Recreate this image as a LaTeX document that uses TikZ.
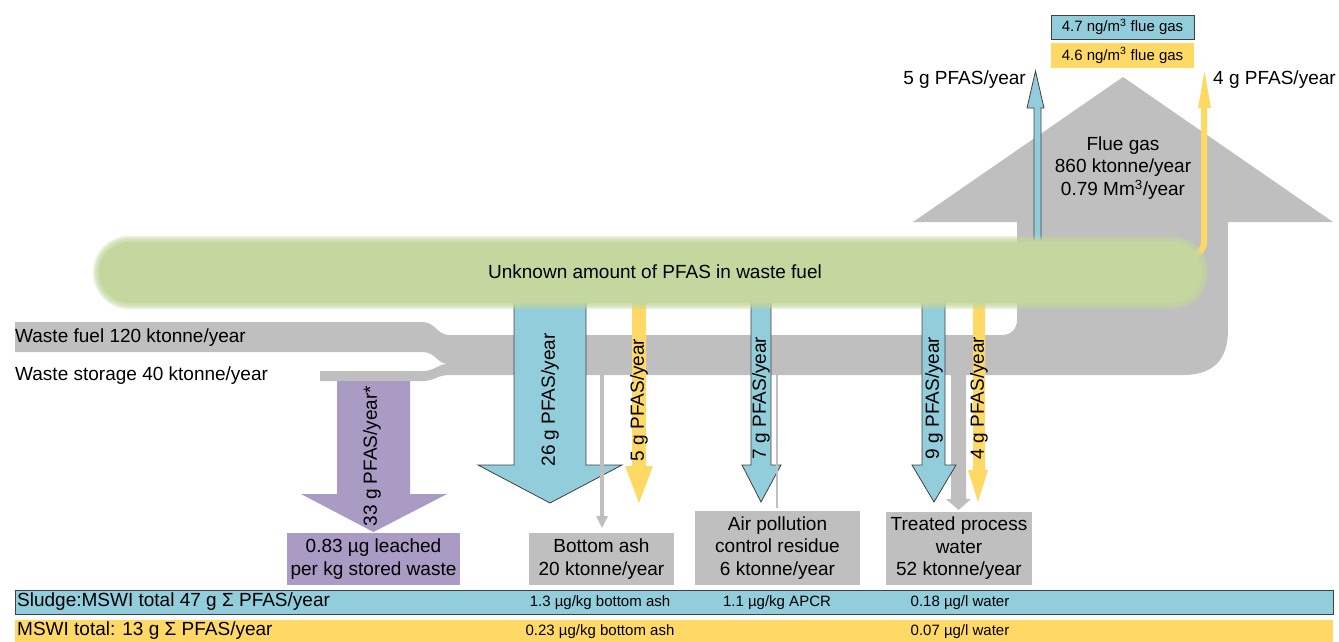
\documentclass[tikz,border=0pt]{standalone}
\usepackage{fontspec}
\setmainfont{Liberation Sans}
\usetikzlibrary{positioning}
\definecolor{FlowGray}{HTML}{BFBFBF}
\definecolor{PfasBlue}{HTML}{92CDDC}
\definecolor{PfasYellow}{HTML}{FFD966}
\definecolor{LeachPurple}{HTML}{A99BC4}
\definecolor{FuelGreen}{HTML}{C4D79F}
\definecolor{EdgeGray}{HTML}{404040}
\tikzset{
  txt/.style={font=\fontsize{19}{22.5}\selectfont, inner sep=0pt, align=center},
  smalltxt/.style={font=\fontsize{15}{18}\selectfont, inner sep=0pt},
  upright/.style={txt, rotate=90},
  sinkbox/.style={fill=FlowGray, inner sep=2pt, align=center, font=\fontsize{19}{22.5}\selectfont},
  leachbox/.style={sinkbox, fill=LeachPurple},
  bluetag/.style={draw=EdgeGray, fill=PfasBlue, minimum width=143pt, minimum height=24pt, inner sep=0pt, font=\fontsize{15}{18}\selectfont},
  yellowtag/.style={bluetag, draw=none, fill=PfasYellow},
  grayflow/.style={fill=FlowGray},
  blueflow/.style={fill=PfasBlue, draw=EdgeGray, line width=0.8pt},
  yellowflow/.style={fill=PfasYellow},
  purpleflow/.style={fill=LeachPurple}
}

\begin{document}
\begin{tikzpicture}[x=1pt, y=-1pt]
\useasboundingbox (0,0) rectangle (1339,642);

% waste in, flue gas out
\fill[grayflow] (15,322) -- (422,322) .. controls (436,322) and (436,335) .. (450,335)
  -- (1002,335) .. controls (1011,335) and (1017,329) .. (1017,320)
  -- (1017,222) -- (913,222) -- (1123,77) -- (1333,222) -- (1228,222)
  -- (1228,330) .. controls (1228,360) and (1213,375) .. (1183,375)
  -- (450,375) .. controls (436,375) and (436,381) .. (422,381)
  -- (320,381) -- (320,371) -- (422,371) .. controls (436,371) and (437,364) .. (448,364)
  .. controls (437,364) and (436,352) .. (422,352) -- (15,352) -- cycle;

% leaching from storage
\fill[purpleflow] (337,381) -- (337,494) -- (301,494) -- (373.5,532) -- (447,494) -- (410,494) -- (410,381) -- cycle;

% flows to residues
\draw[blueflow] (514,300) -- (514,465) -- (478,465) -- (550,503) -- (622,465) -- (586,465) -- (586,300);
\fill[yellowflow] (632,300) -- (632,466) -- (625,466) -- (639,503) -- (653,466) -- (646,466) -- (646,300) -- cycle;
\fill[grayflow] (600,375) -- (600,516) -- (596,516) -- (602,528) -- (608,516) -- (604,516) -- (604,375) -- cycle;
\draw[blueflow] (751,300) -- (751,465) -- (742,465) -- (761,502) -- (781,465) -- (771,465) -- (771,300);
\draw[FlowGray, line width=2pt] (777,375) -- (777,508);
\fill[grayflow] (951,375) -- (951,499) -- (946,499) -- (958.5,510) -- (971,499) -- (966,499) -- (966,375) -- cycle;
\draw[blueflow] (922,300) -- (922,465) -- (912,465) -- (934,502) -- (956,465) -- (945,465) -- (945,300);
\fill[yellowflow] (973,300) -- (973,470) -- (968,470) -- (978,502) -- (988,470) -- (985,470) -- (985,300) -- cycle;

% flows to flue gas
\draw[blueflow] (1034,240) -- (1034,108) -- (1027,108) -- (1035.5,71) -- (1044,108) -- (1041,108) -- (1041,240);
\draw[PfasYellow, line width=6pt, rounded corners=14pt] (1165,256) -- (1204,256) -- (1204,105);
\fill[yellowflow] (1198,108) -- (1204.5,71) -- (1211,108) -- cycle;

% blurred fuel cloud
\foreach \d/\op [evaluate=\d as \r using 36-\d] in {0/0.35, 1.5/0.35, 3/0.35, 4.5/0.35, 6/1}
  \fill[FuelGreen, opacity=\op, rounded corners=\r pt] (93+\d,236+\d) rectangle (1208-\d,309-\d);
\node[txt] (fuel) at (655,272) {Unknown amount of PFAS in waste fuel};

% sinks
\node[leachbox, minimum width=173pt, minimum height=52pt] (leach) at (373.5,559) {0.83 µg leached\\per kg stored waste};
\node[sinkbox, minimum width=145pt, minimum height=52pt] (ash) at (601.5,559) {Bottom ash\\20 ktonne/year};
\node[sinkbox, minimum width=165pt, minimum height=74pt] (apcr) at (777.5,548) {Air pollution\\control residue\\6 ktonne/year};
\node[sinkbox, minimum width=146pt, minimum height=73pt] (water) at (959,548.5) {Treated process\\water\\52 ktonne/year};

% flue gas
\node[bluetag] (gasblue) at (1122.5,27) {4.7 ng/m\textsuperscript{3} flue gas};
\node[yellowtag, minimum height=25pt] (gasyellow) at (1122.5,55.5) {4.6 ng/m\textsuperscript{3} flue gas};
\node[txt, anchor=east] (upblue) at (1026,80) {5 g PFAS/year};
\node[txt, anchor=west] (upyellow) at (1213,80) {4 g PFAS/year};
\node[txt] (fluegas) at (1123,168) {Flue gas\\860 ktonne/year\\0.79 Mm\textsuperscript{3}/year};

% inputs
\node[txt, anchor=west] (fuelin) at (15,338) {Waste fuel 120 ktonne/year};
\node[txt, anchor=west] (storein) at (15,376) {Waste storage 40 ktonne/year};

% flow labels
\node[upright] (ashblue) at (550,400) {26 g PFAS/year};
\node[upright] (ashyellow) at (639,400) {5 g PFAS/year};
\node[upright] (leachpfas) at (372,456) {33 g PFAS/year*};
\node[upright] (apcrblue) at (761,398) {7 g PFAS/year};
\node[upright] (waterblue) at (934,398) {9 g PFAS/year};
\node[upright] (wateryellow) at (979,398) {4 g PFAS/year};

% totals
\node[draw=EdgeGray, fill=PfasBlue, minimum width=1318pt, minimum height=24pt, inner sep=0pt] (sludgebar) at (674,602) {};
\node[fill=PfasYellow, minimum width=1318pt, minimum height=22pt, inner sep=0pt] (mswibar) at (674,631) {};
\node[txt, anchor=west] (sludgetotal) at (17,602) {Sludge:MSWI total 47 g Σ PFAS/year};
\node[smalltxt] (sludgeash) at (600,603) {1.3 µg/kg bottom ash};
\node[smalltxt] (sludgeapcr) at (777,603) {1.1 µg/kg APCR};
\node[smalltxt] (sludgewater) at (960,603) {0.18 µg/l water};
\node[txt, anchor=west] (mswitotal) at (17,631) {MSWI total: 13 g Σ PFAS/year};
\node[smalltxt] (mswiash) at (600,632) {0.23 µg/kg bottom ash};
\node[smalltxt] (mswiwater) at (960,632) {0.07 µg/l water};
\end{tikzpicture}
\end{document}
